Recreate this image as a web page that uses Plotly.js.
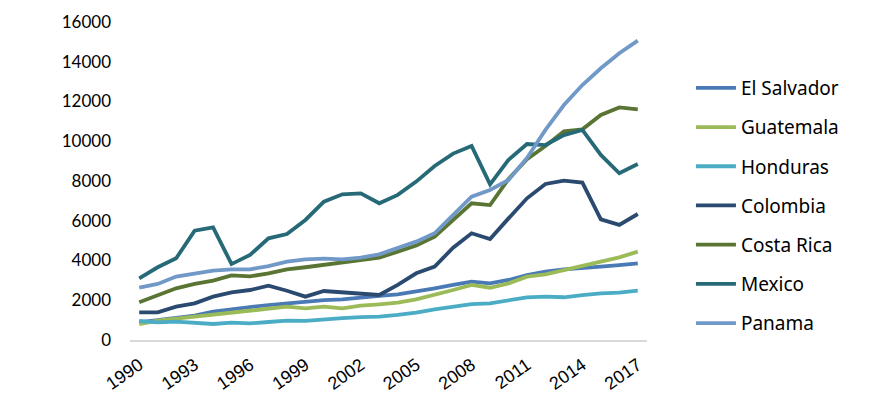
<!DOCTYPE html>
<html>
<head>
<meta charset="utf-8">
<script src="https://cdn.plot.ly/plotly-3.0.1.min.js"></script>
<style>
  html, body { margin: 0; padding: 0; background: #fff; }
  #chart { width: 890px; height: 410px; }
</style>
</head>
<body>
<div id="chart"></div>
<script>
var years = [];
for (var yr = 1990; yr <= 2017; yr++) years.push(yr);

var elSalvador = [890,1000,1090,1225,1425,1560,1660,1760,1845,1895,2010,2045,2150,2215,2300,2430,2600,2770,2935,2850,3020,3270,3440,3555,3600,3690,3770,3855];
var guatemala  = [800,970,1070,1175,1260,1390,1475,1595,1680,1595,1680,1595,1730,1795,1880,2045,2260,2515,2770,2630,2850,3190,3300,3520,3720,3940,4160,4445];
var honduras   = [955,890,920,870,805,870,840,905,970,960,1040,1100,1150,1175,1260,1375,1545,1680,1810,1845,1980,2150,2180,2150,2260,2350,2380,2480];
var colombia   = [1390,1390,1680,1845,2180,2400,2515,2730,2480,2180,2465,2400,2350,2265,2770,3355,3690,4645,5370,5080,6120,7130,7850,8020,7920,6070,5790,6340];
var costaRica  = [1895,2260,2600,2820,2985,3250,3200,3350,3555,3660,3770,3910,4025,4140,4445,4750,5200,6040,6880,6790,8100,9100,9760,10500,10600,11320,11700,11600];
var mexico     = [3100,3660,4110,5500,5670,3820,4280,5115,5330,6040,6960,7330,7380,6880,7300,7970,8755,9380,9760,7830,9060,9860,9810,10310,10570,9310,8390,8855];
var panama     = [2630,2820,3190,3355,3490,3555,3555,3720,3940,4060,4090,4060,4140,4310,4610,4950,5370,6290,7210,7550,8050,9160,10570,11820,12830,13670,14425,15060];

var names  = ['El Salvador','Guatemala','Honduras','Colombia','Costa Rica','Mexico','Panama'];
var series = [elSalvador, guatemala, honduras, colombia, costaRica, mexico, panama];
var colors = ['#4a7ab5','#9bbb59','#4bacc6','#2b4a70','#5a7533','#266a78','#7099c8'];

var data = [];
for (var i = 0; i < names.length; i++) {
  data.push({
    x: years,
    y: series[i],
    name: names[i],
    legendgroup: 'g' + i,
    type: 'scatter',
    mode: 'lines',
    line: { color: colors[i], width: 3.8 },
    hoverinfo: 'none'
  });
}

var layout = {
  width: 890,
  height: 410,
  margin: { l: 130, r: 243, t: 22, b: 70 },
  paper_bgcolor: '#fff',
  plot_bgcolor: '#fff',
  showlegend: true,
  legend: {
    x: 1.085, xanchor: 'left',
    y: 0.423, yanchor: 'middle',
    font: { family: 'Noto Sans', size: 19, color: '#000' },
    tracegroupgap: 11.5,
    itemwidth: 40
  },
  xaxis: {
    range: [1989.5, 2017.5],
    tick0: 1990, dtick: 3,
    tickangle: -35,
    showgrid: false,
    zeroline: false,
    showline: true,
    linecolor: '#d9d9d9',
    linewidth: 1.5,
    ticks: '',
    ticklabelstandoff: 6,
    tickfont: { family: 'Liberation Sans', size: 18, color: '#000' }
  },
  yaxis: {
    range: [0, 16000],
    dtick: 2000,
    tickformat: 'd',
    showgrid: false,
    zeroline: false,
    showline: false,
    ticks: '',
    ticklabelstandoff: 18,
    tickfont: { family: 'Lato', size: 17, color: '#000' }
  }
};

Plotly.newPlot('chart', data, layout, { displayModeBar: false, staticPlot: true });
</script>
</body>
</html>
